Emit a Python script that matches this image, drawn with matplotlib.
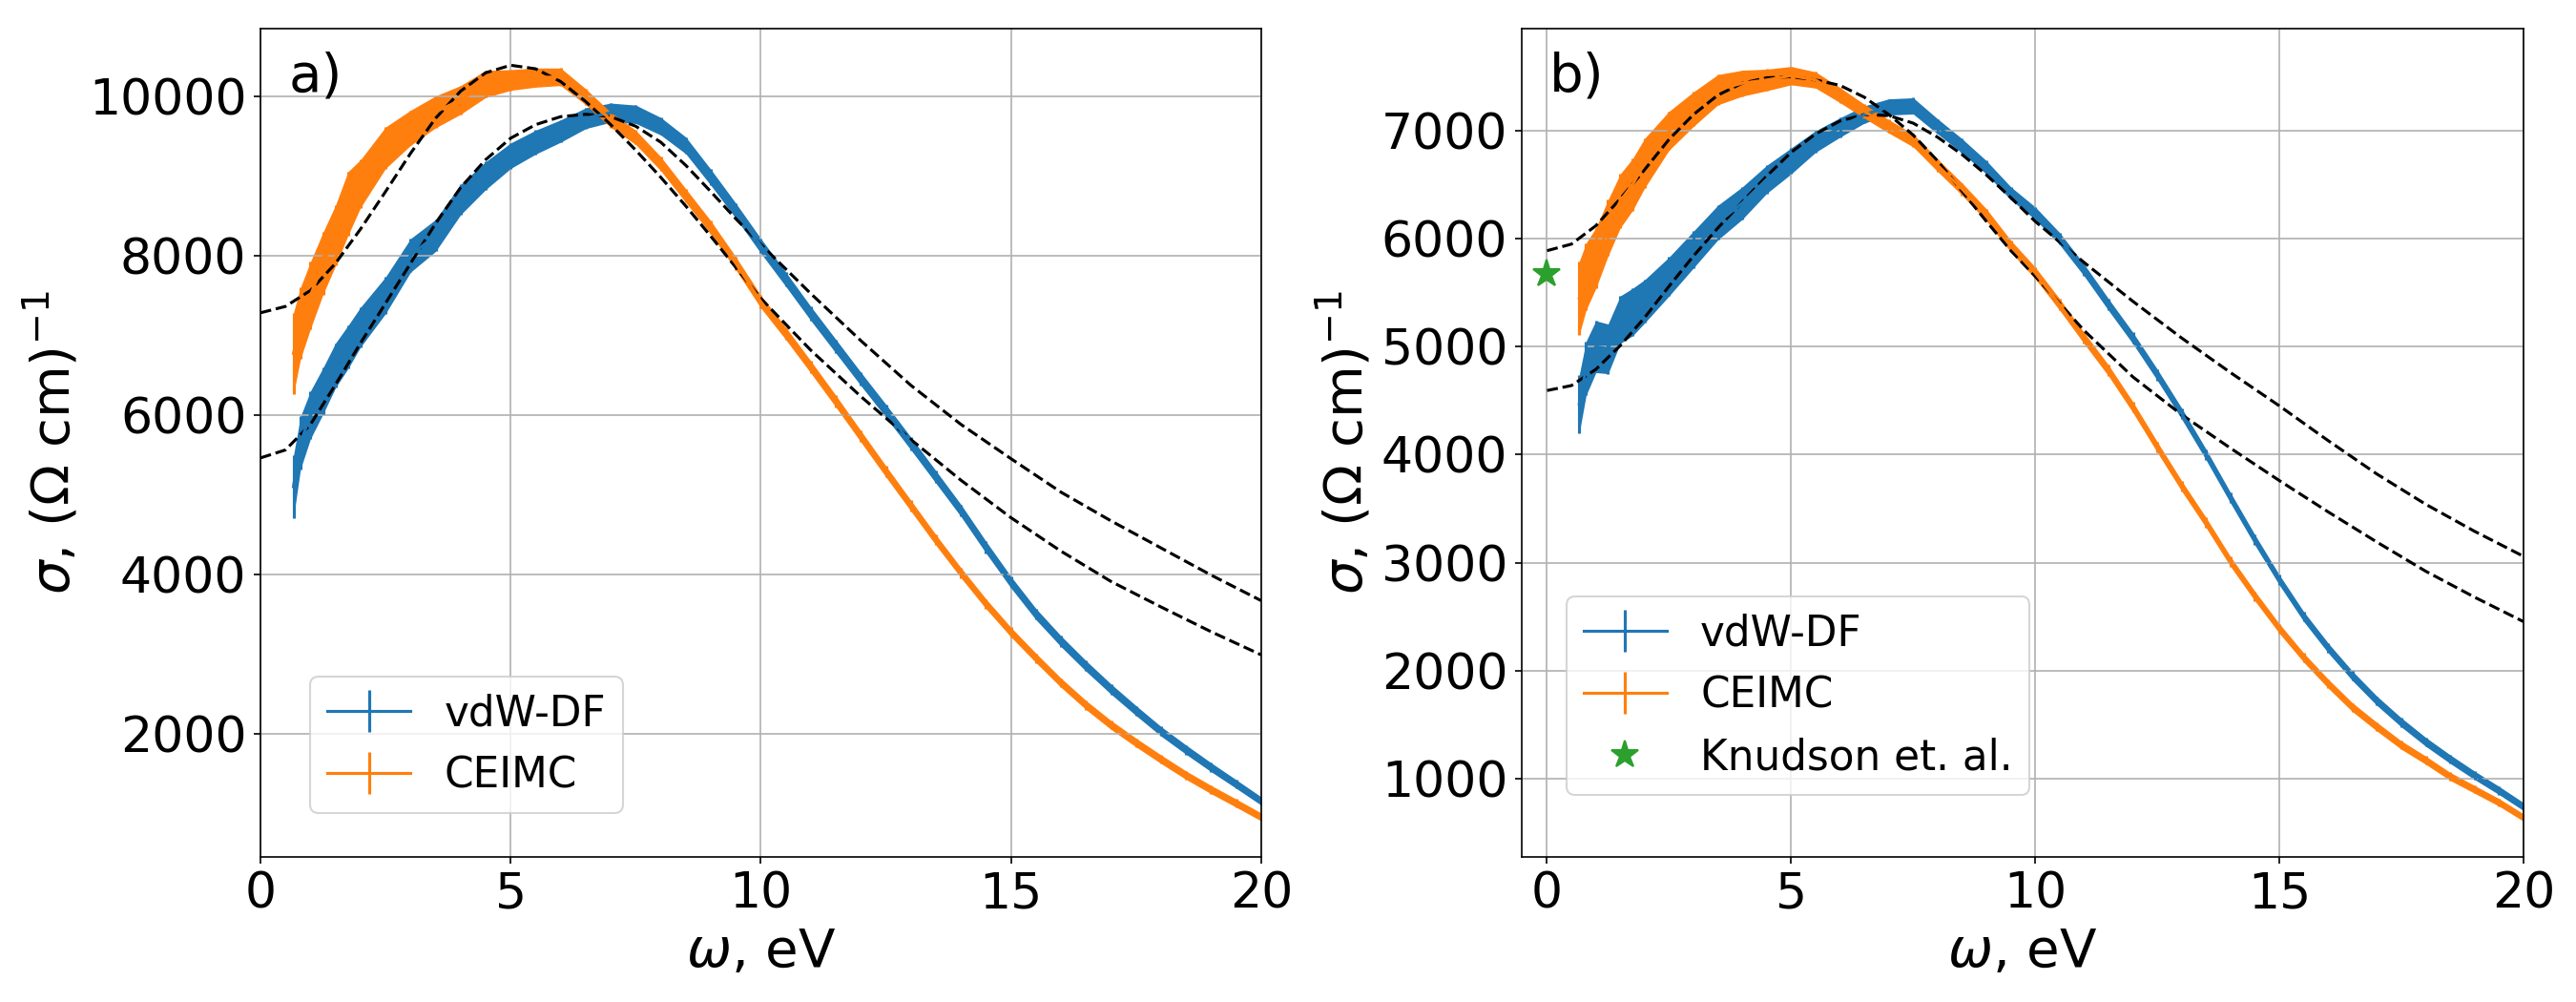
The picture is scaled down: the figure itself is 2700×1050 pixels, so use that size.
import numpy as np
import matplotlib.pyplot as plt

# energija (eV) za podatke sa greskama
w = [0.66, 0.8, 1.0, 1.25, 1.5, 1.75, 2.0, 2.5, 3.0, 3.5, 4.0, 4.5, 5.0, 5.5, 6.0, 6.5, 7.0, 7.5,
     8.0, 8.5, 9.0, 9.5, 10.0, 10.5, 11.0, 11.5, 12.0, 12.5, 13.0, 13.5, 14.0, 14.5, 15.0, 15.5,
     16.0, 16.5, 17.0, 17.5, 18.0, 18.5, 19.0, 19.5, 20.0]

# panel a)
vdw_a = [5100, 5650, 6000, 6300, 6620, 6850, 7100, 7500, 8000, 8250, 8700, 9000, 9250, 9420, 9560,
         9720, 9790, 9770, 9620, 9380, 8980, 8560, 8120, 7700, 7270, 6860, 6450, 6050, 5640, 5220,
         4800, 4340, 3900, 3500, 3160, 2850, 2560, 2290, 2030, 1800, 1580, 1370, 1157]
vdw_a_err = [390, 330, 300, 290, 280, 270, 250, 230, 210, 200, 190, 175, 160, 150, 140, 130, 120, 115,
             110, 105, 100, 95, 92, 90, 88, 86, 84, 82, 80, 78, 76, 74, 72, 70, 68, 66, 64, 62, 60,
             58, 56, 54, 52]
ceimc_a = [6770, 7150, 7500, 7900, 8250, 8650, 8900, 9350, 9600, 9800, 9950, 10150, 10200, 10230,
           10240, 9990, 9700, 9480, 9150, 8750, 8350, 7900, 7420, 7020, 6600, 6170, 5730, 5290,
           4860, 4430, 4020, 3630, 3274, 2950, 2640, 2360, 2110, 1890, 1680, 1480, 1300, 1130, 957]
ceimc_a_err = [510, 450, 420, 390, 380, 400, 300, 260, 220, 200, 180, 170, 130, 120, 110, 100, 95, 90,
               88, 86, 84, 82, 80, 78, 76, 74, 72, 70, 68, 66, 64, 62, 60, 59, 58, 57, 56, 55, 54,
               53, 52, 51, 50]

# panel b)
vdw_b = [4470, 4800, 5000, 4980, 5250, 5320, 5420, 5650, 5900, 6150, 6330, 6550, 6720, 6900, 7030,
         7150, 7220, 7230, 7040, 6860, 6660, 6420, 6236, 6000, 5710, 5390, 5080, 4740, 4380, 4000,
         3600, 3210, 2840, 2500, 2210, 1950, 1720, 1520, 1340, 1180, 1030, 890, 741]
vdw_b_err = [270, 250, 240, 230, 220, 220, 200, 180, 170, 160, 150, 130, 120, 100, 90, 80, 75, 75,
             70, 66, 62, 60, 58, 56, 55, 54, 53, 52, 51, 50, 49, 48, 47, 46, 45, 44, 43, 42, 41,
             40, 39, 38, 37]
ceimc_b = [5450, 5650, 5820, 6100, 6350, 6500, 6700, 7000, 7200, 7380, 7440, 7470, 7510, 7470, 7330,
           7180, 7040, 6910, 6680, 6460, 6220, 5930, 5683, 5390, 5080, 4780, 4440, 4070, 3710, 3370,
           3010, 2690, 2390, 2120, 1880, 1660, 1480, 1310, 1170, 1020, 900, 780, 640]
ceimc_b_err = [340, 310, 280, 260, 250, 240, 230, 180, 160, 140, 120, 100, 85, 75, 70, 65, 62, 60,
               58, 57, 56, 55, 54, 53, 52, 51, 50, 49, 48, 47, 46, 45, 44, 43, 42, 41, 40, 39, 38,
               37, 36, 35, 34]

# fitovane krive (isprekidane linije)
w_fit = [0, 0.5, 1, 1.5, 2, 2.5, 3, 3.5, 4, 4.5, 5, 5.5, 6, 6.5, 7, 7.5, 8, 8.5, 9, 9.5, 10,
         11, 12, 13, 14, 15, 16, 17, 18, 19, 20]
fit_ceimc_a = [7280, 7360, 7560, 7900, 8330, 8800, 9280, 9720, 10060, 10290, 10385, 10340, 10180,
               9930, 9640, 9320, 8980, 8620, 8240, 7850, 7460, 6810, 6230, 5690, 5180, 4710, 4290,
               3910, 3590, 3280, 2990]
fit_vdw_a = [5460, 5560, 5880, 6380, 6900, 7400, 7900, 8400, 8850, 9200, 9470, 9640, 9740, 9770,
             9740, 9620, 9420, 9130, 8800, 8460, 8137, 7520, 6930, 6370, 5880, 5450, 5030, 4670,
             4330, 3990, 3670]
fit_ceimc_b = [5889, 5950, 6120, 6370, 6640, 6920, 7150, 7330, 7440, 7490, 7500, 7470, 7420, 7310,
               7150, 6960, 6720, 6440, 6160, 5890, 5652, 5150, 4720, 4370, 4060, 3760, 3470, 3190,
               2920, 2680, 2454]
fit_vdw_b = [4594, 4640, 4790, 5010, 5270, 5560, 5840, 6100, 6340, 6580, 6800, 6970, 7090, 7150,
             7140, 7070, 6940, 6780, 6590, 6380, 6160, 5780, 5420, 5080, 4760, 4452, 4130, 3820,
             3540, 3290, 3059]

# eksperiment (Knudson et. al.)
w_exp = [0.0]
sigma_exp = [5670]

TICK_FS = 25
LABEL_FS = 27
LEGEND_FS = 21


def draw_band(ax, x, y, err, color, label):
    x = np.array(x)
    y = np.array(y)
    err = np.array(err)
    ax.fill_between(x, y - err, y + err, color=color, lw=0)
    return ax.errorbar(x, y, yerr=err, color=color, label=label)


def draw_panel(ax, vdw, vdw_err, ceimc, ceimc_err, fit_vdw, fit_ceimc, letter):
    h1 = draw_band(ax, w, vdw, vdw_err, 'C0', 'vdW-DF')
    h2 = draw_band(ax, w, ceimc, ceimc_err, 'C1', 'CEIMC')
    ax.plot(w_fit, fit_ceimc, 'k--', lw=1.5)
    ax.plot(w_fit, fit_vdw, 'k--', lw=1.5)
    ax.grid(True)
    ax.set_xlabel(r'$\omega$, eV', fontsize=LABEL_FS)
    ax.set_ylabel(r'$\sigma$, ($\Omega$ cm)$^{-1}$', fontsize=LABEL_FS)
    ax.tick_params(labelsize=TICK_FS)
    ax.set_xticks([0, 5, 10, 15, 20])
    ax.text(0.028, 0.925, letter, transform=ax.transAxes, fontsize=LABEL_FS)
    return [h1, h2]


fig = plt.figure(figsize=(18, 7), dpi=150)
ax1 = fig.add_axes([0.1011, 0.1448, 0.3885, 0.8267])
ax2 = fig.add_axes([0.5907, 0.1448, 0.3889, 0.8267])

handles = draw_panel(ax1, vdw_a, vdw_a_err, ceimc_a, ceimc_a_err, fit_vdw_a, fit_ceimc_a, 'a)')
ax1.set_xlim(0, 20)
ax1.set_ylim(456, 10845)
ax1.legend(handles=handles, loc='lower left', bbox_to_anchor=(0.05, 0.053), borderaxespad=0,
           fontsize=LEGEND_FS)

handles = draw_panel(ax2, vdw_b, vdw_b_err, ceimc_b, ceimc_b_err, fit_vdw_b, fit_ceimc_b, 'b)')
star, = ax2.plot(w_exp, sigma_exp, '*', color='C2', ms=14, label='Knudson et. al.')
ax2.set_xlim(-0.52, 20)
ax2.set_ylim(275, 7946)
ax2.legend(handles=handles + [star], loc='lower left', bbox_to_anchor=(0.045, 0.075),
           borderaxespad=0, fontsize=LEGEND_FS)

plt.savefig('out.png', dpi=150)
